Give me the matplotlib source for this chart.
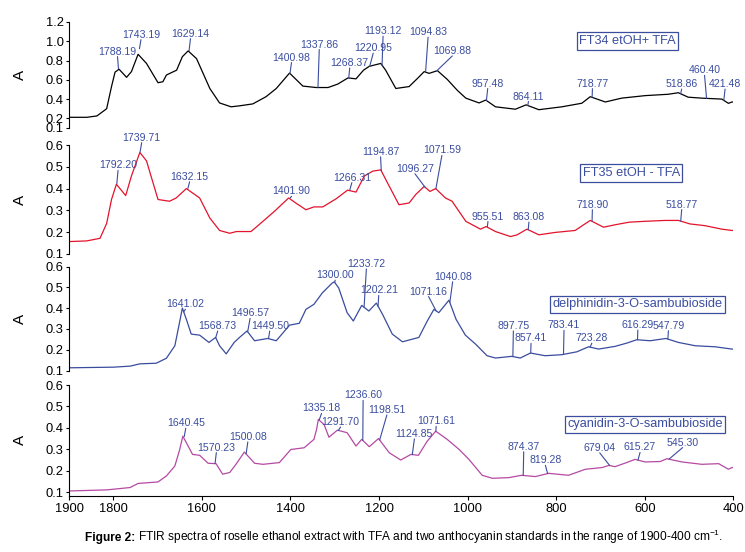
import numpy as np
import matplotlib
matplotlib.use("Agg")
import matplotlib.pyplot as plt
from matplotlib import font_manager

plt.rcParams['font.family'] = ['Liberation Sans', 'DejaVu Sans']

# ---- spectra: wavenumber (cm-1) and absorbance ----
ft34_wn = [1900, 1860, 1837, 1815, 1804, 1796, 1787, 1770, 1759, 1744, 1725, 1699, 1688, 1680,
           1657, 1644, 1631, 1612, 1582, 1560, 1534, 1515, 1485, 1455, 1432, 1402, 1372, 1342,
           1315, 1293, 1270, 1252, 1235, 1222, 1196, 1185, 1162, 1132, 1113, 1098, 1087, 1068,
           1046, 1023, 1004, 974, 959, 937, 892, 868, 839, 787, 742, 723, 689, 652, 599, 547,
           524, 502, 472, 426, 411, 403, 400]
ft34_abs = [0.211, 0.211, 0.225, 0.30, 0.53, 0.68, 0.71, 0.626, 0.685, 0.865, 0.77, 0.57, 0.58, 0.65,
            0.70, 0.84, 0.90, 0.82, 0.51, 0.36, 0.32, 0.33, 0.35, 0.425, 0.51, 0.67, 0.535, 0.52,
            0.52, 0.556, 0.62, 0.61, 0.70, 0.74, 0.77, 0.70, 0.51, 0.53, 0.615, 0.685, 0.667, 0.695,
            0.605, 0.49, 0.41, 0.36, 0.39, 0.32, 0.295, 0.34, 0.29, 0.32, 0.357, 0.425, 0.37, 0.41, 0.436, 0.45,
            0.466, 0.42, 0.41, 0.40, 0.356, 0.37, 0.37]

ft35_wn = [1900, 1860, 1830, 1815, 1804, 1793, 1772, 1759, 1740, 1725, 1699, 1673, 1658, 1635,
           1605, 1582, 1560, 1537, 1522, 1489, 1462, 1436, 1404, 1388, 1365, 1347, 1327, 1297,
           1271, 1252, 1233, 1214, 1196, 1181, 1155, 1132, 1117, 1098, 1085, 1072, 1050, 1035,
           1004, 971, 958, 937, 903, 888, 866, 839, 802, 757, 738, 723, 693, 667, 635, 599,
           554, 524, 498, 464, 426, 403, 400]
ft35_abs = [0.157, 0.16, 0.172, 0.24, 0.35, 0.42, 0.368, 0.458, 0.566, 0.527, 0.35, 0.342, 0.357, 0.40,
            0.357, 0.265, 0.208, 0.195, 0.203, 0.203, 0.25, 0.296, 0.357, 0.334, 0.303, 0.316, 0.316, 0.353,
            0.393, 0.384, 0.458, 0.48, 0.486, 0.427, 0.326, 0.334, 0.373, 0.41, 0.387, 0.40, 0.357, 0.342,
            0.25, 0.214, 0.226, 0.203, 0.18, 0.188, 0.214, 0.188, 0.199, 0.208, 0.234, 0.254, 0.223, 0.234, 0.246, 0.25,
            0.254, 0.254, 0.238, 0.23, 0.214, 0.208, 0.208]

delph_wn = [1900, 1800, 1762, 1740, 1703, 1680, 1661, 1652, 1644, 1635, 1624, 1605, 1584, 1569,
            1560, 1545, 1527, 1515, 1498, 1481, 1451, 1432, 1402, 1380, 1365, 1347, 1328, 1306,
            1301, 1291, 1272, 1258, 1239, 1223, 1206, 1192, 1170, 1147, 1110, 1091, 1076, 1065,
            1042, 1026, 1005, 982, 956, 937, 900, 881, 858, 825, 787, 753, 727, 704, 667, 640,
            618, 588, 552, 524, 486, 441, 403, 400]
delph_abs = [0.113, 0.116, 0.121, 0.132, 0.135, 0.159, 0.219, 0.314, 0.40, 0.346, 0.275, 0.27, 0.235, 0.259,
             0.219, 0.18, 0.235, 0.259, 0.29, 0.243, 0.254, 0.243, 0.318, 0.327, 0.394, 0.418, 0.473, 0.52,
             0.526, 0.497, 0.378, 0.338, 0.413, 0.386, 0.424, 0.37, 0.275, 0.238, 0.259, 0.338, 0.394, 0.378,
             0.438, 0.346, 0.27, 0.227, 0.171, 0.16, 0.168, 0.16, 0.184, 0.171, 0.176, 0.19, 0.214, 0.203, 0.216, 0.232,
             0.248, 0.243, 0.254, 0.235, 0.219, 0.214, 0.203, 0.203]

cyan_wn = [1900, 1815, 1762, 1744, 1699, 1680, 1661, 1650, 1643, 1631, 1621, 1605, 1586, 1568,
           1553, 1537, 1523, 1504, 1481, 1462, 1425, 1399, 1369, 1347, 1341, 1337, 1324, 1313,
           1294, 1272, 1252, 1239, 1222, 1201, 1177, 1151, 1128, 1111, 1091, 1072, 1046, 1019,
           997, 967, 944, 907, 878, 847, 817, 772, 734, 696, 681, 667, 641, 622, 599, 565,
           550, 516, 471, 433, 411, 403, 400]
cyan_abs = [0.107, 0.112, 0.123, 0.142, 0.149, 0.177, 0.223, 0.30, 0.362, 0.316, 0.277, 0.273, 0.236, 0.234,
            0.185, 0.193, 0.231, 0.288, 0.236, 0.231, 0.239, 0.30, 0.308, 0.347, 0.393, 0.44, 0.416, 0.357,
            0.39, 0.378, 0.316, 0.347, 0.313, 0.351, 0.285, 0.251, 0.277, 0.273, 0.339, 0.385, 0.347, 0.30,
            0.254, 0.18, 0.166, 0.169, 0.18, 0.174, 0.189, 0.18, 0.208, 0.216, 0.226, 0.22, 0.239, 0.254, 0.242, 0.244,
            0.257, 0.242, 0.231, 0.234, 0.208, 0.216, 0.216]

# ---- labelled peaks ----
ft34_peaks = [1788.19, 1743.19, 1629.14, 1400.98, 1337.86, 1268.37, 1220.95, 1193.12, 1094.83,
              1069.88, 957.48, 864.11, 718.77, 518.86, 460.40, 421.48]
ft35_peaks = [1792.20, 1739.71, 1632.15, 1401.90, 1266.31, 1194.87, 1096.27, 1071.59, 955.51,
              863.08, 718.90, 518.77]
delph_peaks = [1641.02, 1568.73, 1496.57, 1449.50, 1300.00, 1233.72, 1202.21, 1071.16, 1040.08,
               897.75, 857.41, 783.41, 723.28, 616.29, 547.79]
cyan_peaks = [1640.45, 1570.23, 1500.08, 1335.18, 1291.70, 1236.60, 1198.51, 1124.85, 1071.61,
              874.37, 819.28, 679.04, 615.27, 545.30]

x_ticks = [1900, 1800, 1600, 1400, 1200, 1000, 800, 600, 400]

# label placement: (dx, dy, gap) in pixels, text centre relative to the peak point
ft34_lab = [(-1, 18, 1), (2.5, 20, 6), (1.5, 18, 1), (1.5, 16, 0), (1.3, 43, 0), (1, 15, 0),
            (3.5, 18, 0), (1, 34, 0), (2.5, 40, 0), (15.7, 20, 0), (1.3, 17, 0), (0.7, 9, 0),
            (0.3, 13.7, 0), (1, 9.7, 0), (-2, 28, 0), (1.3, 16.3, 0)]
ft35_lab = [(1.3, 19.3, 1), (1.7, 15, 0.7), (2, 12.7, 1), (2, 7.3, 1), (2.2, 13, 0), (-0.7, 19, 0),
            (-10, 18.3, 0), (6, 38.3, 0), (0.7, 10.6, 0), (0.7, 12.7, 0), (0.3, 16.6, 0), (1, 16.6, 0)]
delph_lab = [(1.8, 7.6, 0), (2, 11.6, 0), (2.4, 18.4, 0), (1.2, 12.6, 0), (0.5, 7.3, 0), (2.3, 43.3, 0),
             (0.7, 15.7, 0), (-7.5, 19.3, 0), (2.8, 25.7, 0), (0.5, 30.6, 0), (0.3, 14.7, 0),
             (0.5, 29, 0), (1.7, 9, 0), (0.3, 14.7, 0), (0.6, 13.3, 0)]
cyan_lab = [(1.8, 15, 1.7), (1.3, 16, 0), (1.7, 17, 0), (2.4, 11.7, 0), (2.2, 8.4, 0), (0.3, 45, 0),
            (7.2, 30, 0), (2.1, 20.7, 0), (0.3, 10, 0), (0.5, 28.7, 0), (-2.2, 13.3, 0),
            (-10, 17.7, 0), (2.1, 12.7, 0), (13.7, 16.6, 0)]

W, H = 745, 552
X0, X1 = 69, 733.3
LABEL_BLUE = '#3a4d9f'

fig = plt.figure(figsize=(W / 100, H / 100), dpi=100)


def add_panel(top, bottom):
    return fig.add_axes([X0 / W, 1 - bottom / H, (X1 - X0) / W, (bottom - top) / H])


panels = [
    # top px, bottom px, ylim, yticks, colour, name, box centre (axes fraction)
    (ft34_wn, ft34_abs, ft34_peaks, ft34_lab, 22, 128, (0.1, 1.2),
     [0.1, 0.2, 0.4, 0.6, 0.8, 1.0, 1.2], '#000000', 'FT34 etOH+ TFA', (0.8407, 0.821)),
    (ft35_wn, ft35_abs, ft35_peaks, ft35_lab, 145, 254, (0.1, 0.6),
     [0.1, 0.2, 0.3, 0.4, 0.5, 0.6], '#e3132c', 'FT35 etOH - TFA', (0.8464, 0.743)),
    (delph_wn, delph_abs, delph_peaks, delph_lab, 266.5, 370.5, (0.1, 0.6),
     [0.1, 0.2, 0.3, 0.4, 0.5, 0.6], '#3a4c9e', 'delphinidin-3-O-sambubioside', (0.8558, 0.6375)),
    (cyan_wn, cyan_abs, cyan_peaks, cyan_lab, 385, 495.7, (0.085, 0.6),
     [0.1, 0.2, 0.3, 0.4, 0.5, 0.6], '#b54aa3', 'cyanidin-3-O-sambubioside', (0.8671, 0.646)),
]

for i, (wn, ab, peaks, lab, top, bottom, ylim, yticks, col, name, boxpos) in enumerate(panels):
    ax = add_panel(top, bottom)
    ax.plot(wn, ab, color=col, lw=0.9)
    ax.set_xlim(1900, 400)
    ax.set_ylim(*ylim)
    ax.set_yticks(yticks)
    ax.set_yticklabels([f"{t:.1f}" for t in yticks])
    ax.tick_params(axis='y', direction='out', length=2.4, width=0.8, pad=1.5, labelsize=9.3)
    for s in ['top', 'right']:
        ax.spines[s].set_visible(False)
    ax.spines['left'].set_linewidth(0.8)
    last = i == len(panels) - 1
    if last:
        ax.set_xticks(x_ticks)
        ax.set_xticklabels([str(t) for t in x_ticks])
        ax.tick_params(axis='x', direction='out', length=3, width=0.8, pad=2, labelsize=9.3)
        ax.spines['bottom'].set_linewidth(0.8)
    else:
        ax.spines['bottom'].set_visible(False)
        ax.set_xticks([])
    ax.set_ylabel('A', fontsize=11, rotation=90)
    ax.yaxis.set_label_coords(-0.064, 0.5)
    ax.patch.set_visible(False)

    # peak labels
    wn_inc = np.array(wn[::-1], dtype=float)
    ab_inc = np.array(ab[::-1], dtype=float)
    for p, (dx, dy, gap) in zip(peaks, lab):
        yv = np.interp(p, wn_inc, ab_inc)
        ax.annotate(f"{p:.2f}", xy=(p, yv), xytext=(dx, dy), textcoords='offset pixels',
                    ha='center', va='center', fontsize=7.6, color=LABEL_BLUE,
                    annotation_clip=False,
                    arrowprops=dict(arrowstyle='-', color=LABEL_BLUE, lw=0.8, patchA=None,
                                    shrinkA=0, shrinkB=gap * 0.72, relpos=(0.5, 0.0)))

    ax.text(boxpos[0], boxpos[1], name, transform=ax.transAxes, ha='center', va='center',
            fontsize=9.2, color=LABEL_BLUE,
            bbox=dict(boxstyle='square,pad=0.2', facecolor='white', edgecolor=LABEL_BLUE, lw=0.9))

# caption: bold lead-in followed by normal text
names = {f.name for f in font_manager.fontManager.ttflist}
if 'Liberation Sans Narrow' in names:
    cap_family, cap_size = ['Liberation Sans Narrow', 'DejaVu Sans'], 9.6
else:
    cap_family, cap_size = ['Liberation Sans', 'DejaVu Sans'], 8.6

t1 = fig.text(85 / W, 1 - 541 / H, 'Figure 2:', fontsize=cap_size, fontweight='bold',
              family=cap_family, va='baseline', ha='left')
fig.canvas.draw()
bb = t1.get_window_extent(fig.canvas.get_renderer())
fig.text((bb.x1 + 3) / W, 1 - 541 / H,
         'FTIR spectra of roselle ethanol extract with TFA and two anthocyanin standards '
         'in the range of 1900-400 cm$^{\\mathregular{-1}}$.',
         fontsize=cap_size, family=cap_family, va='baseline', ha='left')

fig.savefig('out.png', dpi=100)
